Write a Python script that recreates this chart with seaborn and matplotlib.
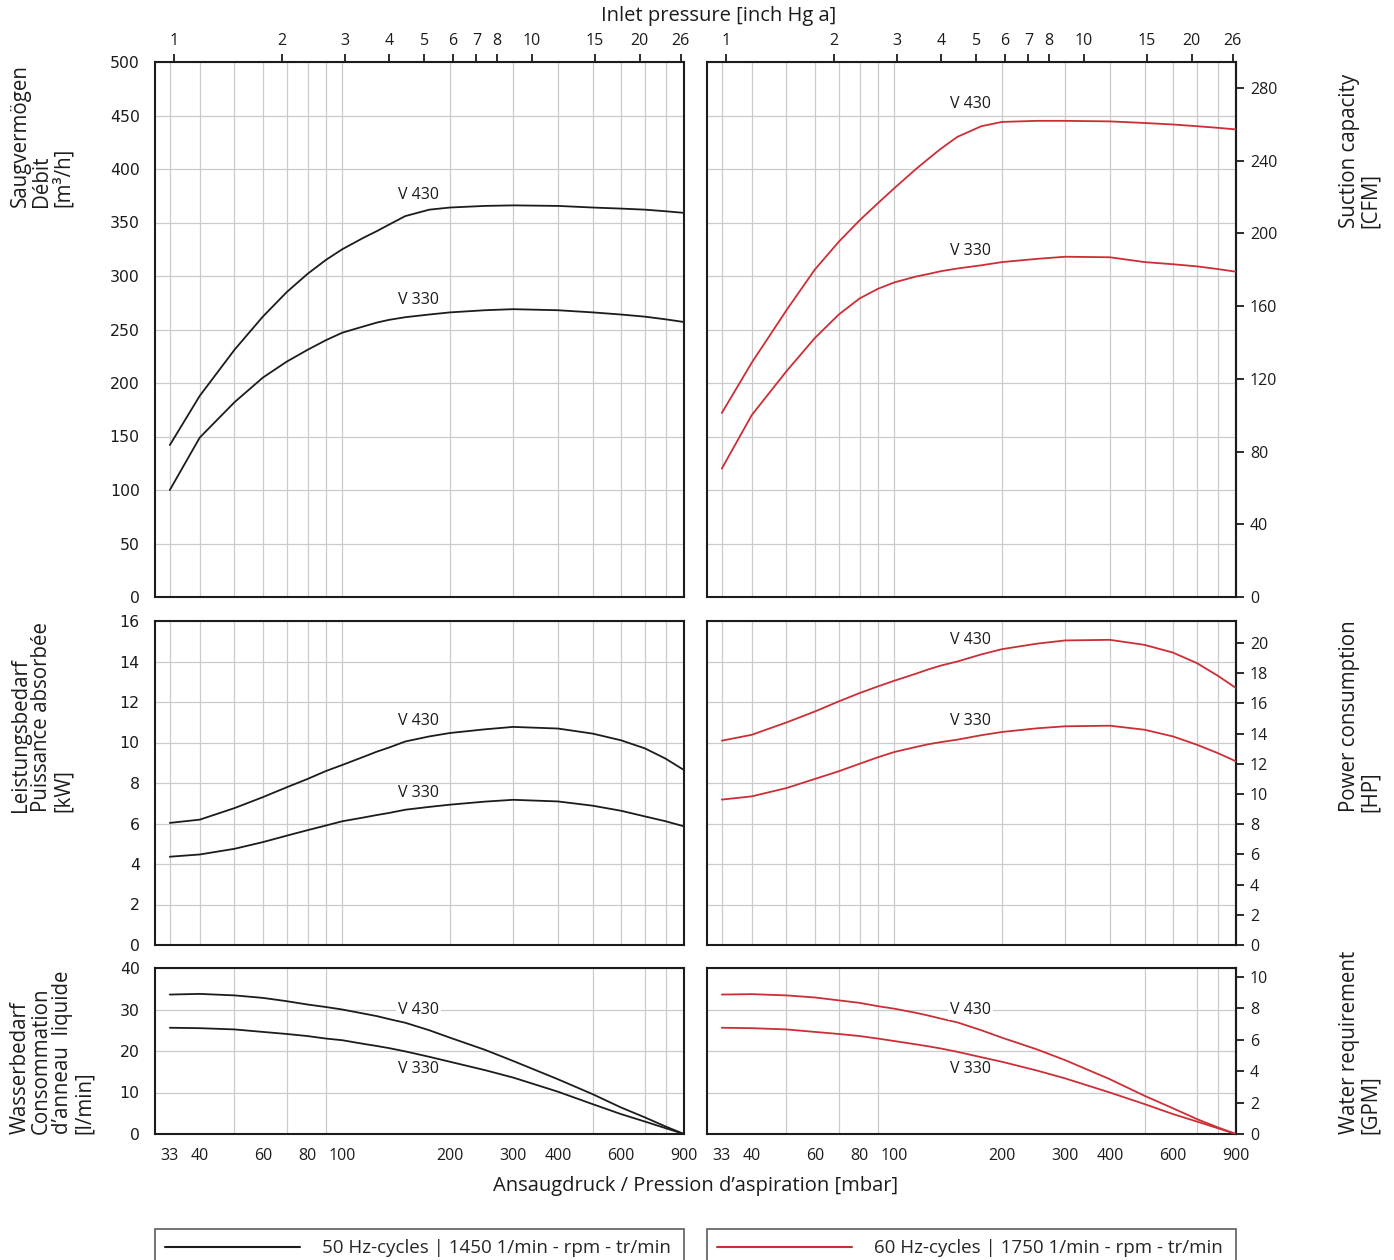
import numpy as np
import pandas as pd
import seaborn as sns
import matplotlib.pyplot as plt
from matplotlib.lines import Line2D
from matplotlib.ticker import FixedLocator, FixedFormatter, NullLocator, NullFormatter

sns.set_theme(style="white")
plt.rcParams['font.family'] = ['Open Sans', 'DejaVu Sans']

W, H = 1394, 1260
BLACK = '#1c1c1c'
RED = '#cc2e35'
GRIDC = '#cbcbcb'

# inlet pressure [mbar] sample points
P = [33, 40, 50, 60, 70, 80, 90, 100, 115, 125, 135, 150, 175, 200, 250, 300, 400, 500, 600, 700, 800, 900]

# suction capacity [m3/h]
cap50_v430 = [142, 188, 231, 262, 285, 302, 315, 325, 336, 342, 348, 356, 362, 364, 365.5, 366, 365.5, 364, 363, 362, 360.5, 359]
cap50_v330 = [100, 149, 182, 205, 220, 231, 240, 247, 253, 256.5, 259, 261.5, 264, 266, 268, 269, 268, 266, 264, 262, 259.5, 257]
cap60_v430 = [172, 219, 268, 306, 332, 352, 368, 382, 400, 410, 419, 430, 440, 444, 445, 445, 444.5, 443, 441.6, 440, 438.5, 437]
cap60_v330 = [120, 170, 211, 242, 264, 279, 288, 294, 299.5, 302, 304.5, 307, 310, 313, 316, 318, 317.5, 313, 311, 309, 306.5, 304]

# power consumption [kW]
pow50_v430 = [6.03, 6.19, 6.76, 7.30, 7.79, 8.20, 8.59, 8.89, 9.3, 9.55, 9.75, 10.05, 10.3, 10.47, 10.65, 10.77, 10.69, 10.44, 10.11, 9.71, 9.2, 8.64]
pow50_v330 = [4.36, 4.47, 4.75, 5.08, 5.40, 5.67, 5.90, 6.11, 6.3, 6.42, 6.52, 6.68, 6.82, 6.93, 7.08, 7.17, 7.09, 6.88, 6.63, 6.35, 6.11, 5.86]
pow60_v430 = [10.09, 10.38, 10.99, 11.53, 12.03, 12.44, 12.77, 13.05, 13.4, 13.62, 13.8, 14.0, 14.35, 14.61, 14.88, 15.04, 15.07, 14.82, 14.44, 13.92, 13.3, 12.69]
pow60_v330 = [7.18, 7.34, 7.75, 8.20, 8.58, 8.95, 9.27, 9.53, 9.78, 9.92, 10.02, 10.14, 10.36, 10.52, 10.7, 10.80, 10.83, 10.63, 10.30, 9.89, 9.48, 9.07]

# water requirement [l/min]
wat50_v430 = [33.6, 33.76, 33.4, 32.8, 32.0, 31.2, 30.6, 30.0, 29.0, 28.4, 27.7, 26.8, 25.0, 23.2, 20.3, 17.6, 13.2, 9.6, 6.4, 4.0, 1.8, 0]
wat50_v330 = [25.6, 25.5, 25.2, 24.6, 24.1, 23.6, 23.0, 22.6, 21.7, 21.2, 20.7, 19.9, 18.6, 17.4, 15.4, 13.6, 10.2, 7.2, 4.8, 3.0, 1.4, 0]
wat60_v430 = [33.6, 33.7, 33.4, 32.9, 32.2, 31.6, 30.8, 30.2, 29.2, 28.5, 27.8, 26.9, 25.0, 23.2, 20.4, 17.8, 13.2, 9.2, 6.2, 3.6, 1.6, 0]
wat60_v330 = [25.6, 25.5, 25.2, 24.6, 24.1, 23.6, 23.0, 22.4, 21.6, 21.1, 20.6, 19.8, 18.5, 17.4, 15.3, 13.4, 10.0, 7.2, 4.8, 3.0, 1.4, 0]

# axis ticks
mbar_ticks = [30, 33, 40, 60, 80, 100, 200, 300, 400, 600, 900]
mbar_labels = ['', '33', '40', '60', '80', '100', '200', '300', '400', '600', '900']
mbar_grid = [33, 40, 50, 60, 70, 80, 90, 100, 200, 300, 400, 500, 600, 700, 800]
inhg_ticks = [1, 2, 3, 4, 5, 6, 7, 8, 10, 15, 20, 26]

# curve label positions: (y of "V 430", y of "V 330") per panel
lbl_cap50 = (376, 278)
lbl_cap60 = (461, 323)
lbl_pow50 = (11.06, 7.5)
lbl_pow60 = (15.06, 11.06)
lbl_wat = (29.8, 15.7)
LBL_X = 163

fig = plt.figure(figsize=(W / 100, H / 100), dpi=100)


def rect(x0, y0, x1, y1):
    return [x0 / W, 1 - y1 / H, (x1 - x0) / W, (y1 - y0) / H]


rows = [
    dict(y0=62, y1=597, ylim=(0, 500), step=50,
         left=(cap50_v430, cap50_v330, lbl_cap50), right=(cap60_v430, cap60_v330, lbl_cap60),
         conv=(lambda v: v / 1.699, lambda c: c * 1.699), rticks=np.arange(0, 281, 40)),
    dict(y0=621, y1=945, ylim=(0, 16), step=2,
         left=(pow50_v430, pow50_v330, lbl_pow50), right=(pow60_v430, pow60_v330, lbl_pow60),
         conv=(lambda v: v * 1.341, lambda c: c / 1.341), rticks=np.arange(0, 21, 2)),
    dict(y0=968, y1=1134, ylim=(0, 40), step=10,
         left=(wat50_v430, wat50_v330, lbl_wat), right=(wat60_v430, wat60_v330, lbl_wat),
         conv=(lambda v: v / 3.785, lambda c: c * 3.785), rticks=np.arange(0, 11, 2)),
]

tick_kw = dict(direction='out', length=6, width=1.3, color=BLACK, labelcolor=BLACK)

for r, row in enumerate(rows):
    for c, (x0, x1) in enumerate([(155, 684), (707, 1236)]):
        ax = fig.add_axes(rect(x0, row['y0'], x1, row['y1']))
        ser = row['left'] if c == 0 else row['right']
        color = BLACK if c == 0 else RED
        df = pd.DataFrame({'p': P * 2, 'v': ser[0] + ser[1],
                           'model': ['V 430'] * len(P) + ['V 330'] * len(P)})
        ax.set_xscale('log')
        sns.lineplot(data=df, x='p', y='v', units='model', estimator=None,
                     color=color, lw=1.3, ax=ax, zorder=3)
        ax.set_xlim(30, 900)
        ax.set_ylim(*row['ylim'])
        ax.set_xlabel('')
        ax.set_ylabel('')

        yt = np.arange(row['ylim'][0], row['ylim'][1] + 0.1, row['step'])
        ax.xaxis.set_minor_locator(FixedLocator(mbar_grid))
        ax.xaxis.set_minor_formatter(NullFormatter())
        ax.yaxis.set_major_locator(FixedLocator(yt))
        ax.grid(which='minor', axis='x', color=GRIDC, lw=0.9, zorder=0)
        ax.grid(which='major', axis='y', color=GRIDC, lw=0.9, zorder=0)
        ax.grid(which='major', axis='x', visible=False)
        ax.tick_params(axis='x', which='minor', length=0)
        for s in ax.spines.values():
            s.set_linewidth(1.5)
            s.set_color(BLACK)

        if r == 2:
            ax.xaxis.set_major_locator(FixedLocator(mbar_ticks))
            ax.xaxis.set_major_formatter(FixedFormatter(mbar_labels))
            ax.tick_params(axis='x', which='major', labelsize=11.5, pad=4, **tick_kw)
        else:
            ax.xaxis.set_major_locator(NullLocator())

        if c == 0:
            ax.tick_params(axis='y', which='major', labelsize=11.3, pad=5,
                           labelfontfamily='DejaVu Sans', **tick_kw)
            ax.yaxis.set_major_formatter(FixedFormatter([f'{v:g}' for v in yt]))
        else:
            ax.tick_params(axis='y', which='major', length=0, labelleft=False)
            sec = ax.secondary_yaxis('right', functions=row['conv'])
            sec.set_yticks(row['rticks'])
            sec.set_yticklabels([f'{v:g}' for v in row['rticks']])
            sec.tick_params(axis='y', labelsize=11.5, pad=4, **tick_kw)
            sec.spines['right'].set_linewidth(1.5)

        if r == 0:
            top = ax.secondary_xaxis('top', functions=(lambda p: p / 33.8639, lambda h: h * 33.8639))
            top.set_xticks(inhg_ticks)
            top.set_xticklabels([str(v) for v in inhg_ticks])
            top.xaxis.set_minor_locator(NullLocator())
            top.tick_params(axis='x', labelsize=11.5, pad=3, **tick_kw)

        ly430, ly330 = ser[2]
        box = dict(facecolor='white', edgecolor='none', pad=1.5) if r == 2 else None
        ax.text(LBL_X, ly430, 'V 430', ha='center', va='center', fontsize=11.5, color=BLACK,
                bbox=box, zorder=4)
        ax.text(LBL_X, ly330, 'V 330', ha='center', va='center', fontsize=11.5, color=BLACK,
                zorder=4)

# axis titles
lab_kw = dict(rotation=90, ha='center', va='bottom', multialignment='left',
              fontsize=14.8, color=BLACK, linespacing=1.02)
fig.text(42 / W, 1 - 207 / H, 'Saugvermögen\nDébit\n[m³/h]', **lab_kw)
fig.text(42 / W, 1 - 812 / H, 'Leistungsbedarf\nPuissance absorbée\n[kW]', **lab_kw)
fig.text(52 / W, 1 - 1134 / H, 'Wasserbedarf\nConsommation\nd’anneau  liquide\n[l/min]', **lab_kw)
fig.text(1360 / W, 1 - 228 / H, 'Suction capacity\n[CFM]', **lab_kw)
fig.text(1360 / W, 1 - 812 / H, 'Power consumption\n[HP]', **lab_kw)
fig.text(1360 / W, 1 - 1134 / H, 'Water requirement\n[GPM]', **lab_kw)

fig.text(719 / W, 1 - 16 / H, 'Inlet pressure [inch Hg a]', ha='center', va='center',
         fontsize=14.5, color=BLACK)
fig.text(696 / W, 1 - 1186 / H, 'Ansaugdruck / Pression d’aspiration [mbar]', ha='center',
         va='center', fontsize=14.5, color=BLACK)

# legends
for (x0, x1), col, txt in [((155, 684), BLACK, '50 Hz-cycles | 1450 1/min - rpm - tr/min'),
                           ((707, 1236), RED, '60 Hz-cycles | 1750 1/min - rpm - tr/min')]:
    leg = fig.legend(handles=[Line2D([], [], color=col, lw=1.5)], labels=[txt],
                     loc='upper left', bbox_to_anchor=(x0 / W, 1 - 1229 / H, (x1 - x0) / W, 0),
                     bbox_transform=fig.transFigure, mode='expand', borderaxespad=0,
                     handlelength=7.2, handletextpad=1.15, borderpad=0.55, fontsize=13.5,
                     fancybox=False, frameon=True)
    leg.get_frame().set_edgecolor('#333333')
    leg.get_frame().set_linewidth(1.2)

fig.savefig('out.png', dpi=100)
